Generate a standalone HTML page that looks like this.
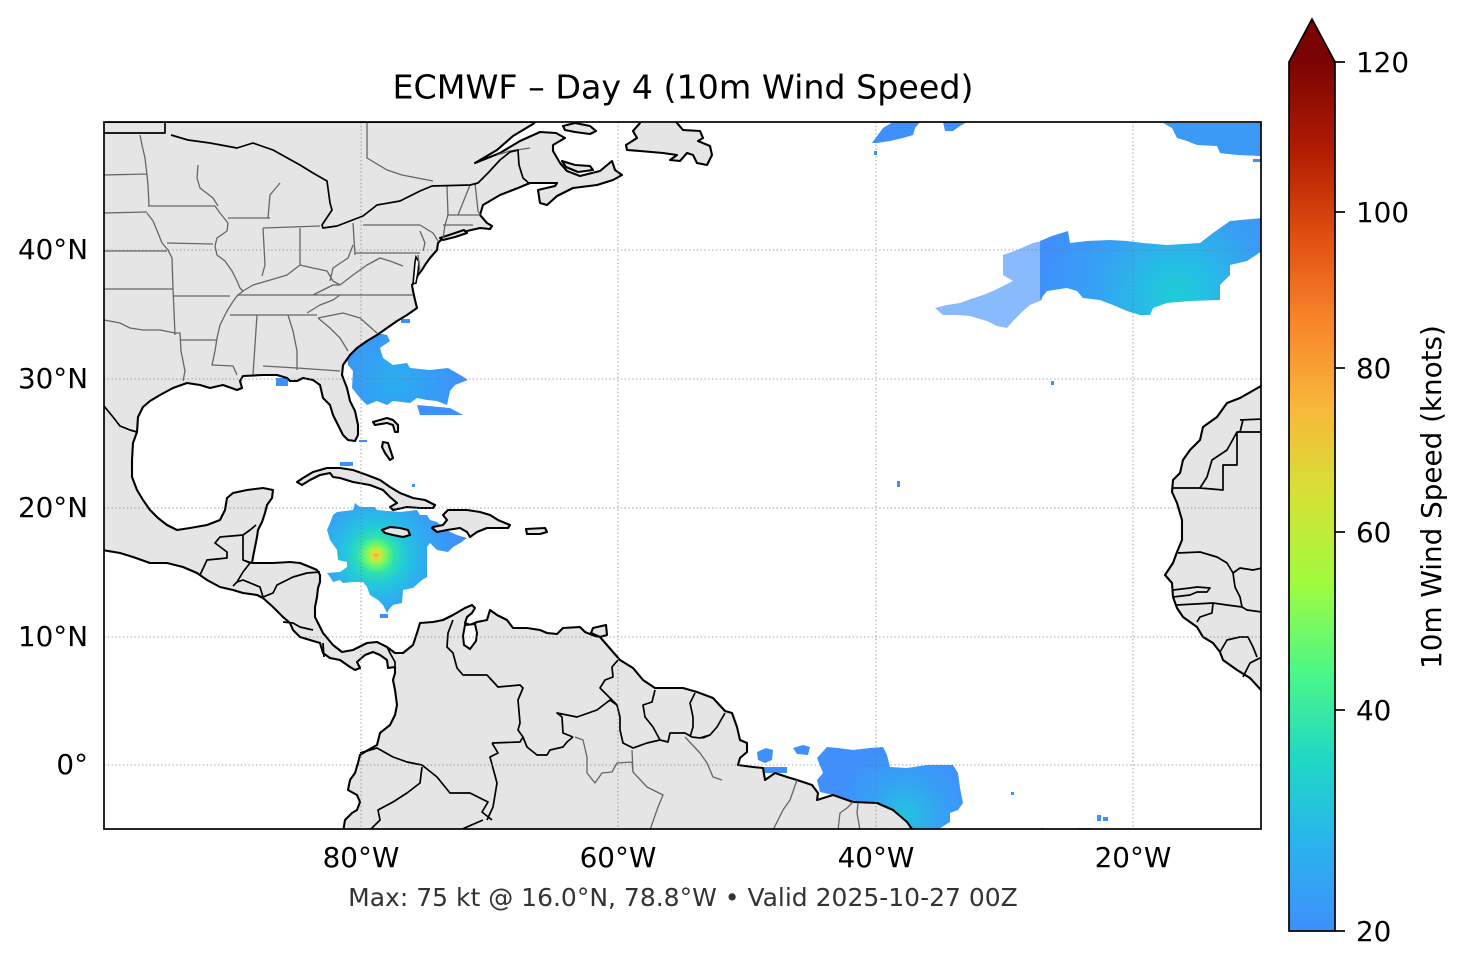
<!DOCTYPE html>
<html><head><meta charset="utf-8"><style>
html,body{margin:0;padding:0;background:#fff;}
svg{display:block;}
text{font-family:"DejaVu Sans","Liberation Sans",sans-serif;}
</style></head><body>
<svg width="1466" height="969" viewBox="0 0 1466 969" xmlns="http://www.w3.org/2000/svg">
<defs>
<clipPath id="ax"><rect x="104" y="122" width="1157" height="707"/></clipPath>
<linearGradient id="cb" x1="0" y1="1" x2="0" y2="0">
<stop offset="0" stop-color="#3e8ffb"/>
<stop offset="0.1" stop-color="#2ab3ee"/>
<stop offset="0.2" stop-color="#1fd9c4"/>
<stop offset="0.3" stop-color="#4ef885"/>
<stop offset="0.4" stop-color="#a0fa3e"/>
<stop offset="0.5" stop-color="#d4e236"/>
<stop offset="0.6" stop-color="#f8b83a"/>
<stop offset="0.7" stop-color="#f9862a"/>
<stop offset="0.8" stop-color="#e04e10"/>
<stop offset="0.9" stop-color="#b11b02"/>
<stop offset="1" stop-color="#7a0403"/>
</linearGradient>
<radialGradient id="carib" gradientUnits="userSpaceOnUse" cx="376" cy="555" r="85">
<stop offset="0" stop-color="#f0a040"/>
<stop offset="0.03" stop-color="#f0d040"/>
<stop offset="0.07" stop-color="#b8f03a"/>
<stop offset="0.14" stop-color="#60f578"/>
<stop offset="0.22" stop-color="#2ee0b0"/>
<stop offset="0.35" stop-color="#22c8dc"/>
<stop offset="0.55" stop-color="#2eaef0"/>
<stop offset="0.8" stop-color="#3a98f8"/>
<stop offset="1" stop-color="#3f8ffc"/>
</radialGradient>
<radialGradient id="neat" gradientUnits="userSpaceOnUse" cx="1177" cy="296" r="140">
<stop offset="0" stop-color="#1ecdd4"/>
<stop offset="0.25" stop-color="#26bce6"/>
<stop offset="0.6" stop-color="#36a0f4"/>
<stop offset="1" stop-color="#3f8ffc"/>
</radialGradient>
<radialGradient id="sat" gradientUnits="userSpaceOnUse" cx="905" cy="815" r="70">
<stop offset="0" stop-color="#22c4e0"/>
<stop offset="0.5" stop-color="#35a2f4"/>
<stop offset="1" stop-color="#3f8ffc"/>
</radialGradient>
<radialGradient id="seus" gradientUnits="userSpaceOnUse" cx="395" cy="380" r="70">
<stop offset="0" stop-color="#2aaeef"/>
<stop offset="1" stop-color="#3f8ffc"/>
</radialGradient>
</defs>

<rect x="0" y="0" width="1466" height="969" fill="#fff"/>

<g clip-path="url(#ax)">
<!-- wind fields -->
<g fill="#3f8ffc">
<polygon fill="url(#seus)" points="353,348 363,341 377,333 387,335 390,341 380,348 383,358 393,365 407,363 410,368 430,370 448,368 462,376 468,380 455,385 450,391 447,405 437,401 427,400 417,398 410,403 393,401 387,405 377,401 367,405 360,398 352,388 353,371 348,365 347,358"/>
<polygon points="417,405 450,408 463,415 420,415"/>
<rect x="276" y="378" width="12" height="8"/>
<rect x="401" y="319" width="9" height="4"/>
<rect x="359" y="440" width="8" height="2"/>
<rect x="340" y="462" width="13" height="4"/>
<rect x="412" y="484" width="3" height="3"/>
<rect x="172" y="556" width="4" height="3"/>
<polygon fill="url(#carib)" points="337,512 353,510 355,503 360,507 375,507 377,510 400,512 417,510 420,515 427,515 430,520 437,522 443,527 450,532 457,535 467,538 460,543 453,547 448,552 437,550 430,543 427,547 427,577 422,580 413,588 403,590 402,603 393,605 390,608 387,613 383,605 378,600 370,595 367,587 363,582 353,582 343,583 340,580 333,582 330,577 327,573 340,572 347,567 347,562 338,560 337,550 330,540 327,530 330,523 333,515"/>
<rect x="380" y="614" width="8" height="4"/>
<polygon points="1163,123 1262,123 1262,156 1237,155 1220,153 1217,146 1197,145 1187,141 1177,138 1172,128" fill="#3a9af6"/>
<rect x="1253" y="159" width="8" height="3"/>
<polygon points="883,128 893,122 920,122 915,128 913,135 903,138 890,141 877,143 872,143"/>
<rect x="874" y="151" width="3" height="4"/>
<polygon points="943,122 967,122 960,126 953,131 945,131"/>
<polygon fill-opacity="0.62" points="935,308 947,305 960,303 968,300 983,295 993,291 1003,286 1013,281 1003,275 1003,255 1017,250 1033,243 1042,241 1042,300 1030,305 1023,311 1013,321 1007,328 997,326 987,321 970,316 957,315 943,315"/>
<polygon fill="url(#neat)" points="1040,241 1052,236 1068,231 1070,243 1087,241 1110,240 1127,241 1143,243 1167,245 1200,243 1213,233 1230,221 1262,218 1262,251 1247,261 1230,265 1230,275 1220,285 1220,300 1190,301 1167,303 1153,308 1150,315 1140,315 1127,311 1113,305 1100,300 1083,298 1077,291 1067,288 1047,291 1040,300"/>
<rect x="1051" y="381" width="3" height="4"/>
<rect x="897" y="481" width="3" height="6"/>
<polygon fill="url(#sat)" points="817,758 827,747 838,748 853,750 870,748 883,747 887,755 890,767 907,768 927,765 953,765 958,773 960,788 963,803 958,810 950,813 950,822 937,830 906,830 906,820 877,803 853,802 833,795 820,792 817,780 823,773"/>
<polygon points="757,752 766,748 773,750 772,760 765,763 758,760"/>
<polygon points="793,748 803,745 810,747 808,755 797,754"/>
<rect x="763" y="767" width="24" height="6"/>
<rect x="1011" y="792" width="3" height="3"/>
<rect x="1097" y="815" width="4" height="6"/>
<rect x="1103" y="817" width="5" height="4"/>
<rect x="1078" y="828" width="14" height="2"/>
<rect x="1041" y="828" width="3" height="2"/>
</g>

<!-- land -->
<g fill="#e5e5e5" stroke="#000" stroke-width="2.1" stroke-linejoin="round">
<path d="M104,122 L535,122 L533,124 L513,136 L497,150 L475,163 L480,161 L500,153 L520,141 L540,132 L556,133 L565,138 L553,145 L553,151 L560,163 L567,171 L580,176 L600,171 L612,161 L615,170 L622,175 L613,180 L597,185 L573,188 L557,196 L547,205 L540,203 L538,190 L555,186 L557,183 L530,183 L518,188 L500,195 L483,205 L480,215 L487,223 L492,226 L490,229 L480,228 L467,231 L453,235 L443,238 L438,243 L437,250 L430,258 L425,265 L422,270 L418,275 L415,281 L412,285 L413,291 L415,300 L417,308 L407,315 L397,321 L387,328 L377,335 L367,341 L357,348 L350,355 L343,365 L342,375 L347,388 L350,401 L355,411 L358,425 L358,435 L355,441 L348,440 L343,435 L338,425 L333,415 L330,405 L323,398 L320,385 L313,380 L303,378 L297,381 L290,381 L287,378 L277,375 L263,375 L243,376 L240,381 L242,388 L237,390 L223,385 L210,388 L200,385 L187,383 L173,388 L160,395 L150,401 L143,407 L138,417 L137,432 L133,443 L132,460 L132,477 L137,490 L143,500 L150,510 L158,518 L167,525 L177,530 L190,528 L207,525 L220,520 L225,510 L227,498 L233,493 L247,490 L263,488 L273,490 L272,498 L267,505 L265,513 L262,522 L258,530 L257,537 L255,547 L253,557 L252,563 L260,563 L273,563 L290,562 L300,563 L310,567 L317,570 L320,575 L320,582 L318,588 L317,597 L315,607 L315,617 L323,633 L333,645 L342,652 L353,650 L367,643 L377,642 L387,647 L395,653 L403,653 L413,645 L417,633 L420,623 L433,622 L443,620 L453,615 L465,608 L472,605 L475,608 L472,613 L467,617 L465,623 L470,625 L477,622 L487,620 L490,610 L497,615 L507,620 L513,628 L527,628 L540,630 L547,633 L557,634 L563,628 L580,627 L585,632 L595,636 L600,637 L613,652 L620,660 L633,668 L643,680 L655,688 L670,688 L683,688 L697,692 L713,698 L725,711 L732,713 L737,727 L740,740 L747,743 L747,752 L740,758 L738,765 L753,767 L763,768 L765,780 L775,773 L787,777 L797,780 L812,785 L818,793 L817,800 L833,795 L853,802 L877,803 L893,810 L907,822 L914,832 L343,832 L345,820 L352,813 L357,810 L360,802 L357,795 L348,790 L350,780 L355,773 L358,763 L360,755 L368,750 L377,745 L380,733 L390,725 L395,715 L397,705 L395,690 L393,680 L395,673 L395,667 L388,668 L387,660 L380,655 L373,652 L365,655 L357,662 L360,668 L355,670 L350,667 L340,660 L330,658 L323,653 L320,643 L310,640 L300,637 L293,630 L290,623 L283,617 L273,607 L263,598 L257,595 L243,593 L233,590 L220,587 L207,580 L197,573 L183,567 L167,563 L150,563 L133,557 L120,553 L102,550 L102,120 Z"/>
<!-- Newfoundland -->
<path d="M626,145 L637,138 L633,131 L640,123 L640,120 L677,120 L677,123 L683,130 L700,131 L703,138 L698,141 L710,146 L712,155 L707,165 L697,163 L693,155 L687,153 L680,161 L670,160 L677,155 L663,153 L640,151 L627,150 Z"/>
<!-- Anticosti -->
<path d="M563,126 L575,123 L590,126 L596,131 L590,134 L575,132 L565,130 Z"/>
<!-- PEI -->
<path d="M562,161 L575,165 L590,166 L593,170 L578,172 L566,167 Z"/>
<!-- Long Island -->
<path d="M440,238 L455,233 L464,230 L467,233 L455,237 L443,240 Z"/>
<!-- Cuba -->
<path d="M297,482 L303,478 L313,472 L327,468 L340,468 L353,470 L367,475 L380,480 L390,487 L400,493 L413,498 L425,500 L435,505 L433,508 L420,508 L407,507 L393,510 L390,507 L397,503 L390,497 L383,490 L370,485 L353,482 L340,478 L333,477 L330,473 L320,475 L310,480 L302,485 Z"/>
<!-- Hispaniola -->
<path d="M433,527 L443,525 L447,520 L443,515 L448,510 L457,510 L467,510 L480,512 L490,515 L498,520 L510,525 L508,528 L498,528 L487,528 L477,532 L470,537 L467,532 L460,528 L447,530 L437,532 L432,528 Z"/>
<!-- Puerto Rico -->
<path d="M526,529 L545,528 L547,532 L540,534 L527,534 Z"/>
<!-- Jamaica -->
<path d="M382,530 L390,527 L400,528 L408,530 L410,535 L403,537 L393,535 L385,533 Z"/>
<!-- Bahamas -->
<path d="M373,422 L387,418 L393,420 L398,425 L398,432 L395,432 L393,425 L387,423 L375,425 Z"/>
<path d="M383,442 L388,443 L393,458 L390,460 L385,453 L382,447 Z"/>
<!-- Trinidad -->
<path d="M593,628 L606,625 L607,635 L600,637 L591,633 Z"/>
<!-- Africa -->
<path d="M1264,386 L1261,386 L1240,398 L1227,403 L1217,417 L1203,427 L1200,440 L1190,450 L1183,460 L1180,473 L1173,480 L1172,492 L1177,503 L1182,520 L1182,540 L1177,552 L1173,563 L1165,575 L1172,583 L1173,597 L1177,608 L1183,617 L1197,627 L1203,637 L1213,643 L1220,652 L1223,660 L1237,670 L1250,678 L1261,690 L1264,690 Z"/>
</g>
<!-- Lake Maracaibo -->
<path d="M465,625 L475,624 L477,633 L476,641 L470,649 L464,645 L463,636 Z" fill="#fff" stroke="#000" stroke-width="2"/>
<!-- Chesapeake -->
<path d="M416,257 L419,262 L418,272 L416,283 L413,284 L414,273 L415,262 Z" fill="#fff" stroke="#000" stroke-width="1.6"/>

<!-- state / province lines -->
<path fill="none" stroke="#666" stroke-width="1.3" stroke-linejoin="round" d="
M140,135 L142,145 L145,158 L147,175 L148,185 L149,206
M104,175 L147,174
M104,213 L147,212
M148,206 L215,206
M147,213 L153,221 L158,233 L162,243 L168,250 L172,258 L173,289
M104,251 L167,251
M167,243 L213,244
M104,289 L173,289
M173,296 L230,296
M173,289 L174,311 L175,335
M104,320 L120,323 L130,328 L143,330 L160,330 L175,333
M175,333 L180,333 L181,351 L185,371 L183,381
M180,340 L217,340
M215,206 L220,213 L228,223 L227,231 L217,238 L215,246 L217,255 L225,261 L232,271 L237,281 L240,288 L243,291 L237,296 L232,303 L227,311 L220,325 L217,338 L215,351 L212,365 L233,366 L237,375
M237,295 L340,295 L413,295
M230,315 L317,315
M307,313 L320,305 L333,300 L340,295
M318,318 L343,313 L360,318 L378,334
M257,315 L253,375
M288,315 L293,331 L297,351 L297,370
M263,366 L297,368 L340,371
M318,318 L330,328 L340,338 L348,351
M243,291 L253,285 L267,281 L287,275 L300,265 L313,268 L327,271 L333,281 L340,285
M340,285 L353,275 L367,265 L380,258 L390,261 L403,266
M313,295 L333,285 L340,285
M263,228 L265,265 L262,276
M300,228 L300,265
M263,228 L320,226
M353,223 L355,255
M355,253 L420,253
M363,225 L420,225 L433,233 L438,241
M353,245 L348,258 L333,268 L330,281
M228,218 L270,218
M268,218 L270,195 L280,183
M198,165 L197,178 L200,188 L213,198 L218,206
M447,186 L448,215 L445,225 L443,238
M475,183 L478,211 L480,215
M470,185 L458,215
M447,215 L480,215
M443,225 L473,225
M418,255 L420,271
M420,231 L425,243 L423,251
M367,122 L367,158 L387,170 L402,175 L433,181
M497,155 L510,151 L530,148
M575,737 L583,740 L587,757 L587,773 L595,783 L602,773 L612,772 L617,763 L632,762 L633,772 L647,787 L663,795 L658,807 L650,830
M632,750 L633,772
M685,737 L700,753 L707,763 L713,777 L722,780
M797,780 L790,800 L783,810 L773,830
M853,802 L847,808 L840,813 L838,830
M858,803 L857,813 L860,830
"/>

<!-- country borders -->
<path fill="none" stroke="#000" stroke-width="1.7" stroke-linejoin="round" d="
M104,133 L165,133 L165,122
M171,135 L188,140 L210,143 L237,148 L253,143 L273,150 L300,165 L313,173 L327,181 L330,203 L332,210 L322,225 L323,228 L337,226 L363,216 L377,205 L400,201 L420,191 L432,186 L470,185 L478,183 L488,173 L500,160 L510,152 L518,150 L519,165 L523,178 L530,184
M104,406 L113,417 L120,426 L130,430 L137,432
M200,575 L207,560 L227,558 L227,552 L215,543 L220,537 L243,535 L243,560 L252,563
M243,535 L250,530 L256,525
M243,560 L250,563 L243,572 L237,582 L233,586
M237,582 L243,580 L260,587 L263,597
M263,597 L273,593 L277,585 L287,580 L293,577 L307,573 L320,572
M283,622 L293,623 L300,627 L313,630
M323,643 L324,657
M387,647 L390,653 L395,662 L395,667
M453,620 L448,633 L447,647 L453,653 L457,668 L463,675 L487,675 L498,687 L520,685 L523,688 L518,700 L520,723 L518,730 L523,737 L527,747 L537,755 L547,755 L550,750 L563,747 L567,742 L573,737
M573,737 L563,733 L562,717 L557,713 L577,717 L597,710 L610,700 L617,705
M618,660 L612,667 L613,677 L605,680 L600,688 L610,698 L617,705
M617,705 L620,717 L620,730 L623,743 L633,748 L647,743 L660,740
M655,690 L652,702 L643,705 L645,717 L653,727 L660,740
M660,740 L668,742 L670,733 L685,733 L692,737 L700,738 L710,735
M695,693 L690,703 L693,717 L693,727 L690,737
M725,713 L717,727 L710,735 L703,738
M360,753 L377,748 L393,757 L407,762 L422,765
M422,765 L437,777 L450,793 L470,793 L488,802 L482,812 L492,820
M422,767 L420,783 L407,793 L393,802 L378,810 L380,820 L370,830
M492,743 L498,753 L490,757 L497,783 L493,807 L487,820
M492,743 L520,742 L523,737
M483,820 L460,830
M1240,420 L1262,419
M1240,432 L1262,432
M1172,488 L1200,488 L1223,490 L1223,465 L1237,465 L1237,432 L1240,432 L1243,420
M1200,488 L1207,477 L1212,460 L1227,450 L1237,432
M1178,553 L1200,552 L1217,557 L1227,563 L1233,573 L1240,568 L1253,570 L1262,568
M1233,573 L1235,587 L1240,597 L1242,607
M1173,590 L1190,588 L1197,587 L1210,588 L1207,592 L1197,592 L1190,595 L1173,597
M1177,605 L1213,603 L1227,605 L1242,607 L1247,610 L1262,612
M1213,603 L1212,613 L1200,617 L1197,622
M1220,652 L1227,640 L1240,637 L1248,637 L1253,647 L1257,657
M1243,677 L1250,663 L1262,657
"/>

<!-- gridlines -->
<g stroke="#777" stroke-opacity="0.55" stroke-width="1.3" stroke-dasharray="1.4 2.4" fill="none">
<line x1="361" y1="122" x2="361" y2="829"/>
<line x1="618" y1="122" x2="618" y2="829"/>
<line x1="876" y1="122" x2="876" y2="829"/>
<line x1="1133" y1="122" x2="1133" y2="829"/>
<line x1="104" y1="250" x2="1261" y2="250"/>
<line x1="104" y1="379" x2="1261" y2="379"/>
<line x1="104" y1="508" x2="1261" y2="508"/>
<line x1="104" y1="637" x2="1261" y2="637"/>
<line x1="104" y1="765" x2="1261" y2="765"/>
</g>
</g>

<!-- frame -->
<rect x="104" y="122" width="1157" height="707" fill="none" stroke="#000" stroke-width="1.7"/>

<!-- title -->
<text x="683" y="98.5" font-size="33.3" text-anchor="middle" fill="#000">ECMWF – Day 4 (10m Wind Speed)</text>

<!-- lon labels -->
<g font-size="27.8" fill="#000" text-anchor="middle">
<text x="361" y="867">80°W</text>
<text x="618" y="867">60°W</text>
<text x="876" y="867">40°W</text>
<text x="1133" y="867">20°W</text>
</g>
<!-- lat labels -->
<g font-size="27.8" fill="#000" text-anchor="end">
<text x="88" y="259">40°N</text>
<text x="88" y="388">30°N</text>
<text x="88" y="517">20°N</text>
<text x="88" y="646">10°N</text>
<text x="88" y="774">0°</text>
</g>

<!-- footer -->
<text x="683" y="906" font-size="25" text-anchor="middle" fill="#333">Max: 75 kt @ 16.0°N, 78.8°W • Valid 2025-10-27 00Z</text>

<!-- colorbar -->
<rect x="1289" y="62" width="46" height="869" fill="url(#cb)"/>
<polygon points="1289,62 1312,19 1335,62" fill="#7a0403"/>
<path d="M1289,931 L1289,62 L1312,19 L1335,62 L1335,931 Z" fill="none" stroke="#000" stroke-width="1.7" stroke-linejoin="miter"/>
<g stroke="#000" stroke-width="1.7">
<line x1="1335" y1="62" x2="1345" y2="62"/>
<line x1="1335" y1="212" x2="1345" y2="212"/>
<line x1="1335" y1="368" x2="1345" y2="368"/>
<line x1="1335" y1="532" x2="1345" y2="532"/>
<line x1="1335" y1="710" x2="1345" y2="710"/>
<line x1="1335" y1="931" x2="1345" y2="931"/>
</g>
<g font-size="27.8" fill="#000">
<text x="1356" y="72">120</text>
<text x="1356" y="222">100</text>
<text x="1356" y="378">80</text>
<text x="1356" y="542">60</text>
<text x="1356" y="720">40</text>
<text x="1356" y="941">20</text>
</g>
<text transform="translate(1441,497) rotate(-90)" font-size="27.8" text-anchor="middle" fill="#000">10m Wind Speed (knots)</text>
</svg>
</body></html>
